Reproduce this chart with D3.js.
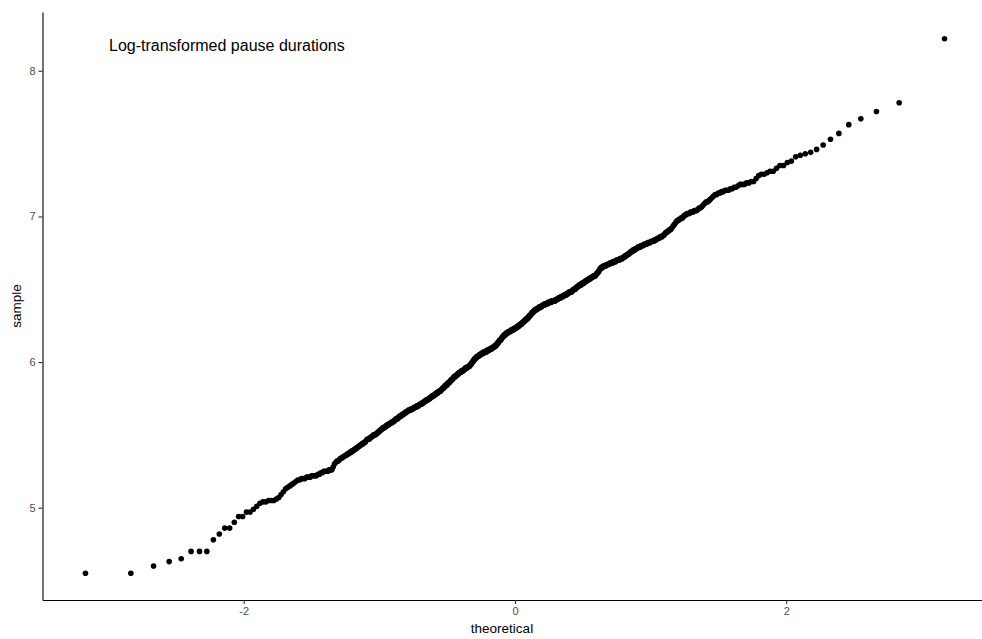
<!DOCTYPE html>
<html>
<head>
<meta charset="utf-8">
<script src="https://cdn.jsdelivr.net/npm/d3@7"></script>
<style>
  body { margin: 0; background: #fff; }
  text { font-family: "Liberation Sans", Arial, sans-serif; }
</style>
</head>
<body>
<script>
var w = 982;
var h = 639;

var title = "Log-transformed pause durations";
var xLabel = "theoretical";
var yLabel = "sample";
var xTicks = [-2, 0, 2];
var yTicks = [5, 6, 7, 8];

// sorted sample values, one per dot
var sample = [
  4.55,4.55,4.60,4.63,4.65,4.70,4.70,4.70,4.78,4.82,
  4.86,4.86,4.90,4.94,4.94,4.97,4.97,4.99,5.01,5.03,
  5.04,5.04,5.05,5.05,5.05,5.06,5.07,5.09,5.11,5.13,
  5.14,5.15,5.16,5.17,5.18,5.19,5.19,5.20,5.20,5.20,
  5.21,5.21,5.21,5.22,5.22,5.22,5.22,5.23,5.23,5.24,
  5.24,5.25,5.25,5.25,5.25,5.26,5.26,5.26,5.28,5.30,
  5.31,5.32,5.32,5.33,5.34,5.34,5.35,5.35,5.36,5.36,
  5.37,5.37,5.38,5.38,5.39,5.39,5.40,5.40,5.41,5.41,
  5.42,5.42,5.43,5.43,5.44,5.44,5.45,5.45,5.46,5.47,
  5.47,5.47,5.48,5.48,5.49,5.49,5.50,5.50,5.50,5.51,
  5.51,5.52,5.52,5.53,5.53,5.54,5.54,5.55,5.55,5.55,
  5.56,5.56,5.57,5.57,5.57,5.58,5.58,5.58,5.59,5.59,
  5.59,5.60,5.60,5.61,5.61,5.61,5.62,5.62,5.63,5.63,
  5.63,5.64,5.64,5.64,5.65,5.65,5.65,5.66,5.66,5.66,
  5.67,5.67,5.67,5.67,5.68,5.68,5.68,5.68,5.69,5.69,
  5.69,5.69,5.70,5.70,5.70,5.70,5.71,5.71,5.71,5.71,
  5.72,5.72,5.72,5.73,5.73,5.73,5.74,5.74,5.74,5.74,
  5.75,5.75,5.75,5.76,5.76,5.76,5.77,5.77,5.77,5.77,
  5.78,5.78,5.78,5.79,5.79,5.79,5.80,5.80,5.80,5.80,
  5.81,5.81,5.82,5.82,5.82,5.83,5.83,5.84,5.84,5.84,
  5.85,5.85,5.86,5.86,5.86,5.87,5.87,5.88,5.88,5.88,
  5.89,5.89,5.90,5.90,5.90,5.91,5.91,5.91,5.92,5.92,
  5.92,5.93,5.93,5.93,5.93,5.94,5.94,5.94,5.94,5.95,
  5.95,5.95,5.96,5.96,5.96,5.96,5.97,5.97,5.97,5.97,
  5.98,5.98,5.99,5.99,6.00,6.00,6.01,6.01,6.02,6.02,
  6.03,6.03,6.03,6.04,6.04,6.04,6.04,6.05,6.05,6.05,
  6.05,6.06,6.06,6.06,6.06,6.06,6.07,6.07,6.07,6.07,
  6.07,6.08,6.08,6.08,6.08,6.08,6.09,6.09,6.09,6.09,
  6.09,6.10,6.10,6.10,6.10,6.11,6.11,6.11,6.11,6.12,
  6.12,6.13,6.13,6.14,6.14,6.15,6.15,6.15,6.16,6.16,
  6.17,6.17,6.18,6.18,6.18,6.19,6.19,6.19,6.20,6.20,
  6.20,6.20,6.21,6.21,6.21,6.21,6.21,6.22,6.22,6.22,
  6.22,6.22,6.23,6.23,6.23,6.23,6.23,6.24,6.24,6.24,
  6.24,6.25,6.25,6.25,6.26,6.26,6.26,6.26,6.27,6.27,
  6.27,6.28,6.28,6.28,6.29,6.29,6.29,6.30,6.30,6.30,
  6.31,6.31,6.32,6.32,6.32,6.33,6.33,6.34,6.34,6.34,
  6.35,6.35,6.35,6.36,6.36,6.36,6.36,6.37,6.37,6.37,
  6.37,6.38,6.38,6.38,6.38,6.38,6.39,6.39,6.39,6.39,
  6.39,6.40,6.40,6.40,6.40,6.40,6.40,6.41,6.41,6.41,
  6.41,6.41,6.41,6.41,6.42,6.42,6.42,6.42,6.42,6.42,
  6.42,6.43,6.43,6.43,6.43,6.43,6.44,6.44,6.44,6.44,
  6.44,6.45,6.45,6.45,6.45,6.45,6.46,6.46,6.46,6.46,
  6.46,6.47,6.47,6.47,6.47,6.48,6.48,6.48,6.48,6.48,
  6.49,6.49,6.49,6.50,6.50,6.50,6.50,6.51,6.51,6.51,
  6.52,6.52,6.52,6.53,6.53,6.53,6.53,6.54,6.54,6.54,
  6.54,6.55,6.55,6.55,6.56,6.56,6.56,6.56,6.57,6.57,
  6.57,6.57,6.58,6.58,6.58,6.58,6.59,6.59,6.59,6.59,
  6.60,6.60,6.61,6.61,6.62,6.62,6.63,6.64,6.64,6.65,
  6.65,6.65,6.66,6.66,6.66,6.66,6.66,6.67,6.67,6.67,
  6.67,6.67,6.68,6.68,6.68,6.68,6.68,6.69,6.69,6.69,
  6.69,6.69,6.70,6.70,6.70,6.70,6.70,6.71,6.71,6.71,
  6.71,6.72,6.72,6.72,6.73,6.73,6.73,6.74,6.74,6.74,
  6.75,6.75,6.76,6.76,6.76,6.77,6.77,6.77,6.78,6.78,
  6.78,6.79,6.79,6.79,6.79,6.80,6.80,6.80,6.80,6.81,
  6.81,6.81,6.81,6.82,6.82,6.82,6.82,6.83,6.83,6.83,
  6.83,6.84,6.84,6.84,6.85,6.85,6.85,6.86,6.86,6.86,
  6.87,6.87,6.88,6.89,6.89,6.90,6.90,6.91,6.91,6.92,
  6.93,6.94,6.95,6.96,6.97,6.97,6.98,6.98,6.99,6.99,
  7.00,7.01,7.01,7.02,7.02,7.02,7.03,7.03,7.03,7.04,
  7.04,7.04,7.05,7.06,7.06,7.07,7.08,7.09,7.10,7.10,
  7.11,7.12,7.13,7.14,7.15,7.15,7.16,7.16,7.17,7.17,
  7.18,7.18,7.18,7.19,7.19,7.20,7.20,7.21,7.22,7.22,
  7.22,7.23,7.23,7.24,7.24,7.26,7.28,7.29,7.29,7.30,
  7.31,7.31,7.33,7.35,7.35,7.37,7.38,7.41,7.42,7.43,
  7.44,7.46,7.49,7.53,7.57,7.63,7.67,7.72,7.78,8.22
];

// inverse normal cdf (Acklam), used for the theoretical quantiles like stat_qq
function qnorm(p) {
  var a = [-3.969683028665376e+01, 2.209460984245205e+02, -2.759285104469687e+02, 1.383577518672690e+02, -3.066479806614716e+01, 2.506628277459239e+00];
  var b = [-5.447609879822406e+01, 1.615858368580409e+02, -1.556989798598866e+02, 6.680131188771972e+01, -1.328068155288572e+01];
  var c = [-7.784894002430293e-03, -3.223964580411365e-01, -2.400758277161838e+00, -2.549671010825507e+00, 4.374664141464968e+00, 2.938163982698783e+00];
  var d = [7.784695709041462e-03, 3.224671290700398e-01, 2.445134137142996e+00, 3.754408661907416e+00];
  var pl = 0.02425, q, r;
  if (p < pl) {
    q = Math.sqrt(-2 * Math.log(p));
    return (((((c[0]*q+c[1])*q+c[2])*q+c[3])*q+c[4])*q+c[5]) / ((((d[0]*q+d[1])*q+d[2])*q+d[3])*q+1);
  } else if (p <= 1 - pl) {
    q = p - 0.5; r = q * q;
    return (((((a[0]*r+a[1])*r+a[2])*r+a[3])*r+a[4])*r+a[5])*q / (((((b[0]*r+b[1])*r+b[2])*r+b[3])*r+b[4])*r+1);
  } else {
    q = Math.sqrt(-2 * Math.log(1 - p));
    return -(((((c[0]*q+c[1])*q+c[2])*q+c[3])*q+c[4])*q+c[5]) / ((((d[0]*q+d[1])*q+d[2])*q+d[3])*q+1);
  }
}

var n = sample.length;
var pts = sample.map(function(v, i) { return {t: qnorm((i + 0.5) / n), s: v}; });

var svg = d3.select("body").append("svg").attr("width", w).attr("height", h);

// panel edges, data range padded by 5% like ggplot
var pLeft = 42.5, pRight = 987.5, pTop = 12, pBottom = 600;
var tx = d3.extent(pts, function(d) { return d.t; });
var sy = d3.extent(pts, function(d) { return d.s; });
var ex = (tx[1] - tx[0]) * 0.05, ey = (sy[1] - sy[0]) * 0.05;

var xS = d3.scaleLinear().domain([tx[0] - ex, tx[1] + ex]).range([pLeft, pRight]);
var yS = d3.scaleLinear().domain([sy[0] - ey, sy[1] + ey]).range([pBottom, pTop]);

var fmt = function(d) { return String(d); };
var xA = d3.axisBottom(xS).tickValues(xTicks).tickFormat(fmt).tickSize(4).tickPadding(3).tickSizeOuter(0);
var yA = d3.axisLeft(yS).tickValues(yTicks).tickFormat(fmt).tickSize(4).tickPadding(3).tickSizeOuter(0);

var gx = svg.append("g").attr("transform", "translate(0," + pBottom + ")").call(xA);
var gy = svg.append("g").attr("transform", "translate(" + pLeft + ",0)").call(yA);
[gx, gy].forEach(function(g) {
  g.select(".domain").attr("stroke", "#000").attr("stroke-width", 1.1);
  g.selectAll(".tick line").attr("stroke", "#333").attr("stroke-width", 1.1);
  g.selectAll(".tick text").attr("fill", "#4d4d4d").attr("font-size", "11px")
    .attr("font-family", "Liberation Sans, Arial, sans-serif");
});

svg.append("g").selectAll("circle").data(pts).enter().append("circle")
  .attr("cx", function(d) { return xS(d.t); })
  .attr("cy", function(d) { return yS(d.s); })
  .attr("r", 2.8)
  .attr("fill", "#000");

svg.append("text").text(title)
  .attr("x", 109).attr("y", 51)
  .attr("font-size", "16px").attr("fill", "#000");

svg.append("text").text(xLabel)
  .attr("x", (pLeft + pRight) / 2 - 13).attr("y", 633)
  .attr("text-anchor", "middle")
  .attr("font-size", "13.5px").attr("fill", "#000");

svg.append("text").text(yLabel)
  .attr("transform", "translate(21," + ((pTop + pBottom) / 2) + ") rotate(-90)")
  .attr("text-anchor", "middle")
  .attr("font-size", "13.5px").attr("fill", "#000");
</script>
</body>
</html>
